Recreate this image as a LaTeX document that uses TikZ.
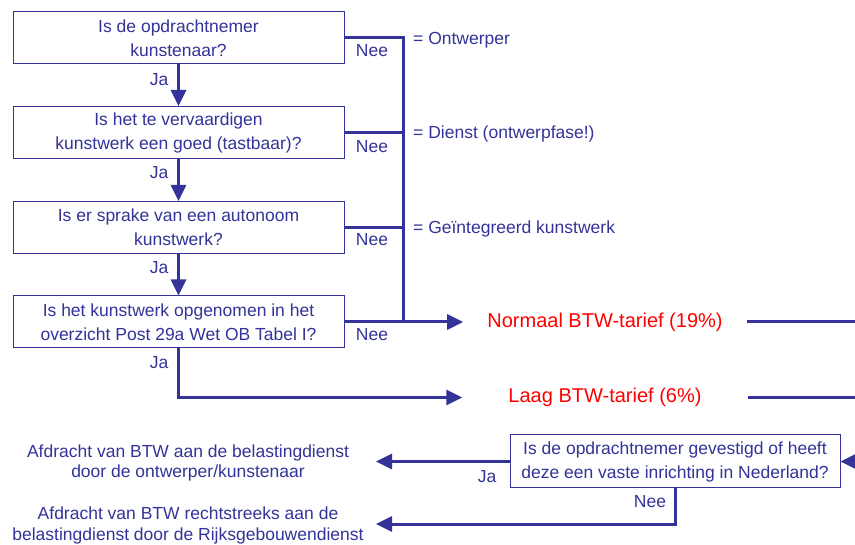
\documentclass[tikz,border=0pt]{standalone}
\usepackage{fontspec}
\setmainfont{Liberation Sans}
\usetikzlibrary{arrows.meta}
\definecolor{dblue}{RGB}{51,51,153}
\definecolor{bred}{RGB}{255,0,0}
\begin{document}
\begin{tikzpicture}[x=1pt,y=-1pt,
  every node/.style={font=\fontsize{17.5}{24}\selectfont, text=dblue},
  qbox/.style={draw=dblue, line width=1pt, fill=white, minimum width=331pt, minimum height=52pt, align=center, inner sep=0pt},
  conn/.style={draw=dblue, line width=3pt},
  arr/.style={conn, -{Triangle[length=16pt,width=15pt]}},
  rate/.style={text=bred, font=\fontsize{20}{24}\selectfont, inner ysep=2pt},
  lbl/.style={inner sep=0pt}
]
\useasboundingbox (0,0) rectangle (855,545);

% question boxes
\node[qbox] (b1) at (178.5,38) {Is de opdrachtnemer\\kunstenaar?};
\node[qbox] (b2) at (178.5,132.5) {Is het te vervaardigen\\kunstwerk een goed (tastbaar)?};
\node[qbox] (b3) at (178.5,227.5) {Is er sprake van een autonoom\\kunstwerk?};
\node[qbox] (b4) at (178.5,322) {Is het kunstwerk opgenomen in het\\overzicht Post 29a Wet OB Tabel I?};
\node[qbox, minimum width=330pt, minimum height=53pt] (b5) at (675,461.5) {Is de opdrachtnemer gevestigd of heeft\\deze een vaste inrichting in Nederland?};

% rate nodes
\node[rate, inner xsep=24pt] (n1) at (605,322) {Normaal BTW-tarief (19\%)};
\node[rate, inner xsep=46pt] (l1) at (605,397.5) {Laag BTW-tarief (6\%)};

% outcome texts
\node[align=center, font=\fontsize{17.5}{20.5}\selectfont] (o1) at (188,463) {Afdracht van BTW aan de belastingdienst\\door de ontwerper/kunstenaar};
\node[align=center, font=\fontsize{17.5}{20.5}\selectfont] (o2) at (188,525.5) {Afdracht van BTW rechtstreeks aan de\\belastingdienst door de Rijksgebouwendienst};

% coordinates
\coordinate (v1) at (403,38);
\coordinate (v2) at (403,132.5);
\coordinate (v3) at (403,227.5);
\coordinate (v4) at (403,322);
\coordinate (r1) at (855,322);
\coordinate (r2) at (855,397.5);
\coordinate (r3) at (855,461.5);
\coordinate (t1) at (376,461.5);
\coordinate (t2) at (376,524);

% Ja arrows
\draw[arr] (b1) -- (b2);
\draw[arr] (b2) -- (b3);
\draw[arr] (b3) -- (b4);
\draw[arr] (b4.south) |- (l1.west);

% Nee connectors
\draw[conn] (b1.east) -- (v1) -- (v4);
\draw[conn] (b2.east) -- (v2);
\draw[conn] (b3.east) -- (v3);
\draw[arr] (b4.east) -- (n1.west);

% right side lines
\draw[conn] (n1.east) -- (r1);
\draw[conn] (l1.east) -- (r2);
\draw[arr] (r3) -- (b5.east);

% bottom
\draw[arr] (b5.west) -- (t1);
\draw[arr] (b5.south) |- (t2);

% labels
\node[lbl] (ja1) at (159,80) {Ja};
\node[lbl] (ja2) at (159,173) {Ja};
\node[lbl] (ja3) at (159,268) {Ja};
\node[lbl] (ja4) at (159,363) {Ja};
\node[lbl] (ne1) at (372,51) {Nee};
\node[lbl] (ne2) at (372,147) {Nee};
\node[lbl] (ne3) at (372,240) {Nee};
\node[lbl] (ne4) at (372,335) {Nee};
\node[lbl] (ja5) at (487,477) {Ja};
\node[lbl] (ne5) at (650,502) {Nee};

\node[lbl, anchor=west] (e1) at (413,40) {= Ontwerper};
\node[lbl, anchor=west] (e2) at (413,134) {= Dienst (ontwerpfase!)};
\node[lbl, anchor=west] (e3) at (413,229) {= Geïntegreerd kunstwerk};
\end{tikzpicture}
\end{document}
